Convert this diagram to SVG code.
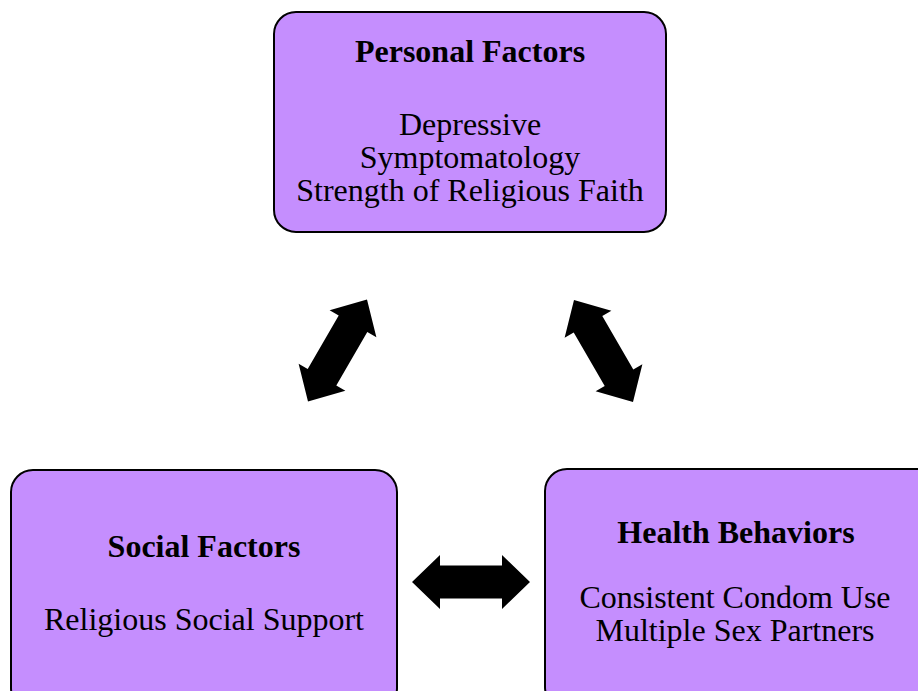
<svg xmlns="http://www.w3.org/2000/svg" width="918" height="691" viewBox="0 0 918 691">
<style>
.box{fill:#C58EFE;stroke:#000;stroke-width:2}
text{font-family:"Liberation Serif","Times New Roman",serif;font-size:32px;fill:#000;text-anchor:middle}
.t{font-weight:bold}
.arr{fill:#000}
</style>
<defs>
<path id="dbl" d="M-59,0 L-31,-27 L-31,-16.5 L31,-16.5 L31,-27 L59,0 L31,27 L31,16.5 L-31,16.5 L-31,27 Z"/>
</defs>
<rect width="918" height="691" fill="#fff"/>
<g id="personal">
<rect class="box" x="274" y="12" width="392" height="220" rx="22"/>
<text class="t" x="470" y="62">Personal Factors</text>
<text x="470" y="135">Depressive</text>
<text x="470" y="168">Symptomatology</text>
<text x="470" y="201">Strength of Religious Faith</text>
</g>
<g id="social">
<rect class="box" x="11" y="470" width="386" height="240" rx="22"/>
<text class="t" x="204" y="557">Social Factors</text>
<text x="204" y="630">Religious Social Support</text>
</g>
<g id="health">
<rect class="box" x="545" y="469" width="400" height="240" rx="22"/>
<text class="t" x="736" y="543">Health Behaviors</text>
<text x="735" y="608">Consistent Condom Use</text>
<text x="735" y="641">Multiple Sex Partners</text>
</g>
<g id="connectors" class="arr">
<use href="#dbl" transform="translate(337.5,350.5) rotate(-60)"/>
<use href="#dbl" transform="translate(603.5,351) rotate(60)"/>
<use href="#dbl" transform="translate(471,582)"/>
</g>
</svg>
